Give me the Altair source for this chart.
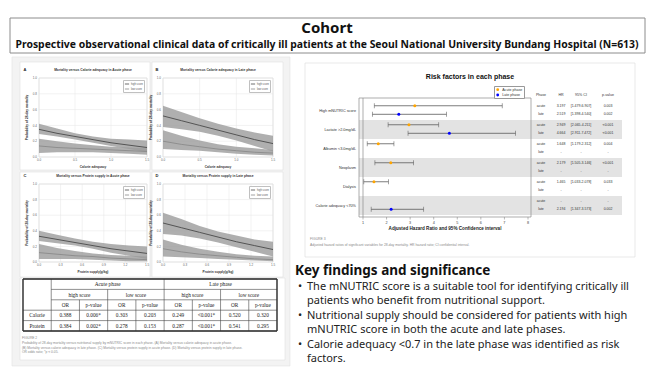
import altair as alt
import pandas as pd

SANS = "Noto Sans"
FIG = "Liberation Sans"
SERIF = "Liberation Serif"

# ---------------- text content ----------------
title_main = "Cohort"
title_sub = ("Prospective observational clinical data of critically ill patients at the "
             "Seoul National University Bundang Hospital (N=613)")

kf_heading = "Key findings and significance"
kf_lines = [
    "The mNUTRIC score is a suitable tool for identifying critically ill",
    "patients who benefit from nutritional support.",
    "Nutritional supply should be considered for patients with high",
    "mNUTRIC score in both the acute and late phases.",
    "Calorie adequacy <0.7 in the late phase was identified as risk",
    "factors.",
]
kf_bullet = [True, False, True, False, True, False]

# ---------------- small mortality panels ----------------
x_grid = [0.0, 0.25, 0.5, 0.75, 1.0, 1.25, 1.5]
y_ticks = [0.0, 0.2, 0.4, 0.6, 0.8, 1.0]
calorie_ticks = [0.0, 0.5, 1.0, 1.5]
protein_ticks = [0.0, 0.3, 0.6, 0.9, 1.2, 1.5]
panel_letters = ["A", "B", "C", "D"]
panel_titles = ["Mortality versus Calorie adequacy in Acute phase",
                "Mortality versus Calorie adequacy in Late phase",
                "Mortality versus Protein supply in Acute phase",
                "Mortality versus Protein supply in Late phase"]
panel_xtitles = ["Calorie adequacy", "Calorie adequacy",
                 "Protein supply(g/kg)", "Protein supply(g/kg)"]
groups = ["high score", "low score"]

A_high_est = [0.35, 0.30, 0.26, 0.22, 0.18, 0.15, 0.12]
A_high_lo = [0.29, 0.26, 0.22, 0.18, 0.14, 0.10, 0.06]
A_high_hi = [0.42, 0.36, 0.30, 0.26, 0.23, 0.22, 0.21]
A_low_est = [0.14, 0.12, 0.11, 0.10, 0.09, 0.08, 0.07]
A_low_lo = [0.05, 0.06, 0.06, 0.06, 0.05, 0.04, 0.03]
A_low_hi = [0.23, 0.20, 0.17, 0.15, 0.13, 0.12, 0.11]

B_high_est = [0.52, 0.46, 0.40, 0.34, 0.28, 0.22, 0.17]
B_high_lo = [0.38, 0.35, 0.32, 0.27, 0.21, 0.14, 0.07]
B_high_hi = [0.65, 0.57, 0.49, 0.42, 0.36, 0.31, 0.27]
B_low_est = [0.20, 0.16, 0.13, 0.10, 0.08, 0.06, 0.05]
B_low_lo = [0.10, 0.09, 0.08, 0.06, 0.04, 0.03, 0.02]
B_low_hi = [0.34, 0.27, 0.21, 0.16, 0.13, 0.11, 0.09]

C_high_est = [0.33, 0.29, 0.25, 0.21, 0.17, 0.14, 0.11]
C_high_lo = [0.27, 0.24, 0.21, 0.17, 0.12, 0.08, 0.04]
C_high_hi = [0.40, 0.35, 0.30, 0.26, 0.23, 0.21, 0.20]
C_low_est = [0.12, 0.10, 0.08, 0.07, 0.05, 0.04, 0.03]
C_low_lo = [0.04, 0.04, 0.04, 0.03, 0.02, 0.01, 0.01]
C_low_hi = [0.23, 0.18, 0.14, 0.11, 0.09, 0.08, 0.07]

D_high_est = [0.50, 0.44, 0.38, 0.32, 0.26, 0.21, 0.16]
D_high_lo = [0.36, 0.34, 0.30, 0.25, 0.19, 0.13, 0.07]
D_high_hi = [0.63, 0.55, 0.46, 0.39, 0.34, 0.29, 0.26]
D_low_est = [0.17, 0.13, 0.10, 0.08, 0.06, 0.04, 0.03]
D_low_lo = [0.07, 0.06, 0.05, 0.04, 0.03, 0.02, 0.01]
D_low_hi = [0.29, 0.22, 0.17, 0.13, 0.10, 0.08, 0.07]

# ---------------- OR table ----------------
table_rows = ["Calorie", "Protein"]
table_phases = ["Acute phase", "Late phase"]
table_scores = ["high score", "low score", "high score", "low score"]
table_stats = ["OR", "p-value"] * 4
calorie_vals = ["0.388", "0.006*", "0.303", "0.203", "0.249", "<0.001*", "0.520", "0.320"]
protein_vals = ["0.384", "0.002*", "0.278", "0.153", "0.287", "<0.001*", "0.541", "0.295"]
fig2_caption = ("FIGURE 2\n"
                "Probability of 28-day mortality versus nutritional supply by mNUTRIC score in each phase. (A) Mortality versus calorie adequacy in acute phase.\n"
                "(B) Mortality versus calorie adequacy in late phase. (C) Mortality versus protein supply in acute phase. (D) Mortality versus protein supply in late phase.\n"
                "OR odds ratio; *p < 0.05.")

# ---------------- forest plot ----------------
forest_title = "Risk factors in each phase"
factors = ["High mNUTRIC score", "Lactate >2.0mg/dL", "Albumin <3.0mg/dL",
           "Neoplasm", "Dialysis", "Calorie adequacy <70%"]
acute_hr = [3.197, 2.949, 1.648, 2.179, 1.465, None]
acute_lo = [1.479, 2.065, 1.179, 1.505, 1.033, None]
acute_hi = [6.907, 4.211, 2.312, 3.146, 2.078, None]
acute_p = ["0.003", "<0.001", "0.004", "<0.001", "0.033", "-"]
late_hr = [2.519, 4.664, None, None, None, 2.194]
late_lo = [1.398, 2.911, None, None, None, 1.347]
late_hi = [4.540, 7.472, None, None, None, 3.573]
late_p = ["0.002", "<0.001", "-", "-", "-", "0.002"]
hr_ticks = [1, 2, 3, 4, 5, 6, 7, 8]
table_headers = ["Phase", "HR", "95% CI", "p-value"]
fig3_caption = ("FIGURE 3\n"
                "Adjusted hazard ratios of significant variables for 28-day mortality. HR hazard ratio; CI confidential interval.")

one = pd.DataFrame({"k": [0]})


def box(x0, x1, y0, y1, fill, stroke, sw=0.6):
    return alt.Chart(one).mark_rect(fill=fill, stroke=stroke, strokeWidth=sw).encode(
        x=alt.value(x0), x2=alt.value(x1), y=alt.value(y0), y2=alt.value(y1))


def label(txt, x, y, size, font=SANS, bold=False, color="#111", align="center", angle=0, lh=None):
    kw = dict(fontSize=size, font=font, fontWeight="bold" if bold else "normal",
              color=color, align=align, baseline="middle")
    if angle:
        kw["angle"] = angle
    if lh:
        kw["lineBreak"] = "\n"
        kw["lineHeight"] = lh
        kw["baseline"] = "top"
    return alt.Chart(pd.DataFrame({"t": [txt]})).mark_text(**kw).encode(
        x=alt.value(x), y=alt.value(y), text="t:N")


def small_panel(i, est_hi, lo_hi_, hi_hi_, est_lo, lo_lo_, hi_lo_, card, plot, xticks):
    cx0, cy0, cx1, cy1 = card
    px0, py0, px1, py1 = plot
    xs = alt.Scale(domain=[0, 1.5], range=[px0, px1], nice=False, zero=False)
    ys = alt.Scale(domain=[0, 1.0], range=[py1, py0], nice=False, zero=False)
    n = len(x_grid)
    df = pd.DataFrame({
        "x": x_grid * 2,
        "group": [groups[0]] * n + [groups[1]] * n,
        "est": est_hi + est_lo,
        "lo": lo_hi_ + lo_lo_,
        "hi": hi_hi_ + hi_lo_,
    })
    gx = pd.DataFrame({"v": xticks})
    gy = pd.DataFrame({"v": y_ticks})
    X = lambda f: alt.X(f, scale=xs, axis=None)
    Y = lambda f: alt.Y(f, scale=ys, axis=None)
    layers = [
        box(cx0, cx1, cy0, cy1, "white", "#e0e0e0"),
        box(px0, px1, py0, py1, "white", "#c8c8c8", 0.5),
        alt.Chart(gx).mark_rule(color="#e4e4e4", strokeWidth=0.5).encode(
            x=X("v:Q"), y=alt.value(py0), y2=alt.value(py1)),
        alt.Chart(gy).mark_rule(color="#e4e4e4", strokeWidth=0.5).encode(
            y=Y("v:Q"), x=alt.value(px0), x2=alt.value(px1)),
        alt.Chart(df).mark_area(color="#9b9b9b", opacity=0.8).encode(
            x=X("x:Q"), y=Y("lo:Q"), y2="hi:Q", detail="group:N"),
        alt.Chart(df).mark_line(strokeWidth=0.9).encode(
            x=X("x:Q"), y=Y("est:Q"),
            color=alt.Color("group:N",
                            scale=alt.Scale(domain=groups, range=["#4a4a4a", "#8a8a8a"]),
                            legend=alt.Legend(orient="none", legendX=px1 - 24, legendY=py0 + 2,
                                              title=None, labelFontSize=2.6, labelFont=FIG,
                                              symbolType="stroke", symbolSize=18,
                                              symbolStrokeWidth=0.8, rowPadding=0,
                                              padding=1, labelOffset=1,
                                              strokeColor="#c0c0c0", labelColor="#555",
                                              fillColor="white"))),
        alt.Chart(gx).mark_text(fontSize=3, font=FIG, color="#666", baseline="top").encode(
            x=X("v:Q"), y=alt.value(py1 + 2), text=alt.Text("v:Q", format=".1f")),
        alt.Chart(gy).mark_text(fontSize=3, font=FIG, color="#666", align="right",
                                baseline="middle").encode(
            y=Y("v:Q"), x=alt.value(px0 - 2), text=alt.Text("v:Q", format=".1f")),
        label(panel_xtitles[i], (px0 + px1) / 2, py1 + 10, 3.2, FIG, True, "#333"),
        label("Probability of 28-day mortality", px0 - 12, (py0 + py1) / 2, 3.2, FIG, True,
              "#333", angle=270),
        label(panel_titles[i], (px0 + px1) / 2, py0 - 8, 3.3, FIG, True, "#333"),
        label(panel_letters[i], cx0 + 5, py0 - 8, 4, FIG, True, "#222"),
    ]
    return alt.layer(*layers)


cards = [(12, 54, 142, 162), (144, 54, 275, 162), (12, 164, 142, 269), (144, 164, 275, 269)]
plots = [(31, 70, 139, 149), (155, 70, 265, 149), (31, 176, 139, 254), (155, 176, 265, 254)]
panel_data = [
    (A_high_est, A_high_lo, A_high_hi, A_low_est, A_low_lo, A_low_hi, calorie_ticks),
    (B_high_est, B_high_lo, B_high_hi, B_low_est, B_low_lo, B_low_hi, calorie_ticks),
    (C_high_est, C_high_lo, C_high_hi, C_low_est, C_low_lo, C_low_hi, protein_ticks),
    (D_high_est, D_high_lo, D_high_hi, D_low_est, D_low_lo, D_low_hi, protein_ticks),
]
panels = []
for i, (eh, lh, hh, el, ll, hl, tk) in enumerate(panel_data):
    panels.append(small_panel(i, eh, lh, hh, el, ll, hl, cards[i], plots[i], tk))

# ---------------- OR table layer ----------------
tx = alt.Scale(domain=[0, 9], range=[15, 269], nice=False, zero=False)
ty = alt.Scale(domain=[0, 5], range=[271, 323], nice=False, zero=False)
cells = []
for k, ph in enumerate(table_phases):
    cells.append((3 + 4 * k, 0.5, ph))
for k, sc in enumerate(table_scores):
    cells.append((2 + 2 * k, 1.5, sc))
for k, st in enumerate(table_stats):
    cells.append((1.5 + k, 2.5, st))
for r, (name, vals) in enumerate(zip(table_rows, [calorie_vals, protein_vals])):
    cells.append((0.5, 3.5 + r, name))
    for k, v in enumerate(vals):
        cells.append((1.5 + k, 3.5 + r, v))
cell_df = pd.DataFrame(cells, columns=["cx", "cy", "t"])
segs = []
for yv, a in [(0, 0), (1, 1), (2, 1), (3, 0), (4, 0), (5, 0)]:
    segs.append((a, 9, yv, yv))
for xv, a in [(0, 0), (1, 0), (5, 0), (9, 0), (3, 1), (7, 1), (2, 2), (4, 2), (6, 2), (8, 2)]:
    segs.append((xv, xv, a, 5))
seg_df = pd.DataFrame(segs, columns=["x0", "x1", "y0", "y1"])
outer_df = pd.DataFrame([(0, 9, 0, 0), (0, 9, 5, 5), (0, 0, 0, 5), (9, 9, 0, 5)],
                        columns=["x0", "x1", "y0", "y1"])
table_layer = alt.layer(
    box(12, 277, 270, 352, "white", "#e0e0e0"),
    alt.Chart(seg_df).mark_rule(color="#444", strokeWidth=0.6).encode(
        x=alt.X("x0:Q", scale=tx, axis=None), x2="x1:Q",
        y=alt.Y("y0:Q", scale=ty, axis=None), y2="y1:Q"),
    alt.Chart(outer_df).mark_rule(color="#333", strokeWidth=1.3).encode(
        x=alt.X("x0:Q", scale=tx, axis=None), x2="x1:Q",
        y=alt.Y("y0:Q", scale=ty, axis=None), y2="y1:Q"),
    alt.Chart(cell_df).mark_text(font=SERIF, fontSize=5.3, color="#222").encode(
        x=alt.X("cx:Q", scale=tx, axis=None), y=alt.Y("cy:Q", scale=ty, axis=None),
        text="t:N"),
    label(fig2_caption, 14, 328, 3.3, FIG, False, "#8a8a8a", align="left", lh=4.8),
)

# ---------------- forest plot layer ----------------
fx = alt.Scale(domain=[1, 8], range=[355, 520], nice=False, zero=False)
fy = alt.Scale(domain=[0, 12], range=[93, 207], nice=False, zero=False)
rows = []
for g, f in enumerate(factors):
    for ph, hr, lo, hi, p, off, leg in [
        ("acute", acute_hr[g], acute_lo[g], acute_hi[g], acute_p[g], 0.5, "Acute phase"),
        ("late", late_hr[g], late_lo[g], late_hi[g], late_p[g], 1.4, "Late phase"),
    ]:
        rows.append(dict(factor=f, phase=ph, leg=leg, pos=2 * g + off, hr=hr, lo=lo, hi=hi,
                         hr_t=f"{hr:.3f}" if hr else "-",
                         ci_t=f"[{lo:.3f}-{hi:.3f}]" if hr else "-", p_t=p))
rows_df = pd.DataFrame(rows)
pts_df = rows_df.dropna(subset=["hr"])
lab_df = pd.DataFrame({"factor": factors, "mid": [2 * g + 1 for g in range(len(factors))]})
band_df = pd.DataFrame({"b0": [2 * g for g in (1, 3, 5)], "b1": [2 * g + 2 for g in (1, 3, 5)]})
tick_df = pd.DataFrame({"v": hr_ticks})
FX = lambda f: alt.X(f, scale=fx, axis=None)
FY = lambda f: alt.Y(f, scale=fy, axis=None)
col_x = [533, 553, 573, 600]
col_fields = ["phase:N", "hr_t:N", "ci_t:N", "p_t:N"]
forest_layers = [
    box(297, 627, 55, 249, "white", "#dadada"),
    alt.Chart(band_df).mark_rect(fill="#e3e3e3").encode(
        x=alt.value(351), x2=alt.value(614), y=FY("b0:Q"), y2="b1:Q"),
    box(351, 523, 90, 209, "transparent", "#8a8a8a", 0.7),
    alt.Chart(tick_df).mark_rule(color="#8a8a8a", strokeWidth=0.6).encode(
        x=FX("v:Q"), y=alt.value(209), y2=alt.value(211.5)),
    alt.Chart(one).mark_rule(color="#8a8a8a", strokeWidth=0.7).encode(
        x=alt.X(datum=1, scale=fx, axis=None), y=alt.value(90), y2=alt.value(209)),
    alt.Chart(pts_df).mark_rule(color="#5a5a5a", strokeWidth=0.8).encode(
        x=FX("lo:Q"), x2="hi:Q", y=FY("pos:Q")),
    alt.Chart(pts_df).mark_tick(orient="vertical", size=5, thickness=0.8, color="#5a5a5a").encode(
        x=FX("lo:Q"), y=FY("pos:Q")),
    alt.Chart(pts_df).mark_tick(orient="vertical", size=5, thickness=0.8, color="#5a5a5a").encode(
        x=FX("hi:Q"), y=FY("pos:Q")),
    alt.Chart(pts_df).mark_circle(size=9, opacity=1).encode(
        x=FX("hr:Q"), y=FY("pos:Q"),
        color=alt.Color("leg:N",
                        scale=alt.Scale(domain=["Acute phase", "Late phase"],
                                        range=["#FFA500", "#0000FF"]),
                        legend=alt.Legend(orient="none", legendX=486, legendY=78, title=None,
                                          labelFontSize=3.6, labelFont=FIG, symbolSize=8,
                                          symbolType="circle", strokeColor="#999",
                                          padding=1.2, rowPadding=0.3, labelOffset=2,
                                          fillColor="white", labelColor="#333"))),
    alt.Chart(tick_df).mark_text(fontSize=3.8, font=FIG, color="#444", baseline="top").encode(
        x=FX("v:Q"), y=alt.value(212.5), text="v:Q"),
    alt.Chart(lab_df).mark_text(fontSize=3.8, font=FIG, color="#333", align="right").encode(
        x=alt.value(348), y=FY("mid:Q"), text="factor:N"),
]
for cx, hdr, fld in zip(col_x, table_headers, col_fields):
    forest_layers.append(label(hdr, cx, 87, 3.6, FIG, False, "#333"))
    forest_layers.append(
        alt.Chart(rows_df).mark_text(fontSize=3.5, font=FIG, color="#333").encode(
            x=alt.value(cx), y=FY("pos:Q"), text=fld))
forest_layers += [
    label(forest_title, 462, 69, 7, FIG, True, "#111"),
    label("Adjusted Hazard Ratio and 95% Confidence interval", 437, 221, 4.6, FIG, True, "#222"),
    label(fig3_caption, 302, 229, 3.4, FIG, False, "#8a8a8a", align="left", lh=5.5),
]
forest_layer = alt.layer(*forest_layers)

# ---------------- key findings ----------------
ky = alt.Scale(domain=[0, len(kf_lines) - 1], range=[279, 351], nice=False, zero=False)
kf_df = pd.DataFrame({"ln": list(range(len(kf_lines))), "t": kf_lines,
                      "b": ["•" if b else "" for b in kf_bullet]})
kf_layer = alt.layer(
    label(kf_heading, 287, 263, 13.5, SANS, True, "#111", align="left"),
    alt.Chart(kf_df).mark_text(fontSize=11, font=SANS, color="#222", align="left").encode(
        x=alt.value(290), y=alt.Y("ln:Q", scale=ky, axis=None), text="b:N"),
    alt.Chart(kf_df).mark_text(fontSize=11, font=SANS, color="#222", align="left").encode(
        x=alt.value(299), y=alt.Y("ln:Q", scale=ky, axis=None), text="t:N"),
)

# ---------------- title ----------------
title_layer = alt.layer(
    box(2, 637, 10, 45, "white", "#8c8c8c", 1),
    label(title_main, 319, 20, 15, SANS, True, "#111"),
    label(title_sub, 319, 36.5, 10.4, SANS, True, "#111"),
)

left_panel = box(4, 282, 49, 358, "#f3f3f3", "#e3e3e3")

chart = alt.layer(
    left_panel, *panels, table_layer, forest_layer, kf_layer, title_layer
).resolve_scale(
    x="independent", y="independent", color="independent"
).properties(
    width=642, height=360,
    autosize=alt.AutoSizeParams(type="none"),
    padding=0,
    background="white",
).configure_view(stroke=None)

chart.save("out.html", embed_options={"renderer": "svg", "actions": False})
